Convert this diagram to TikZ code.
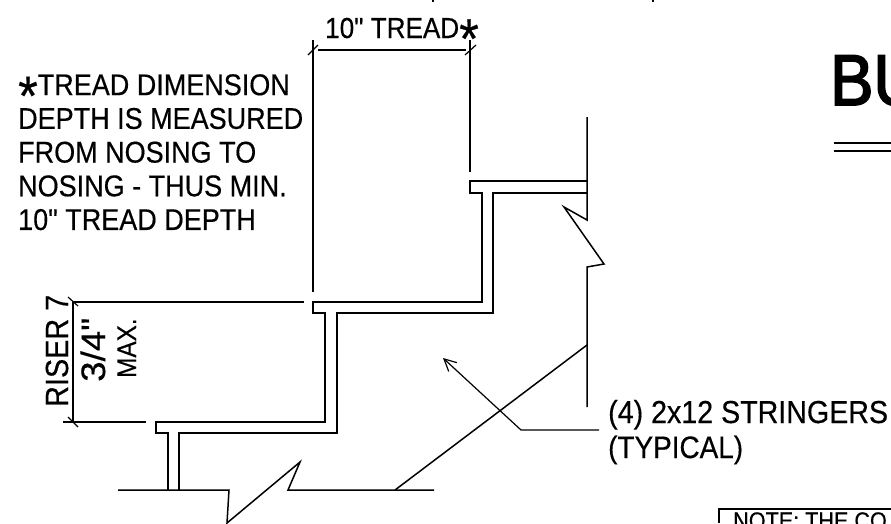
\documentclass[tikz,border=0pt]{standalone}
\usepackage{fontspec}
\newfontfamily\handfont[FakeStretch=0.9,FakeBold=0.4]{Liberation Sans}
\newfontfamily\titlefont[FakeStretch=0.9,FakeBold=2.5]{Liberation Sans}
\usetikzlibrary{arrows.meta}
\usetikzlibrary{positioning}
\tikzset{main line/.style={draw,line width=1.5pt,line join=miter}}
\tikzset{thin line/.style={draw,line width=1.2pt}}
\tikzset{lettering/.style={inner sep=0pt,anchor=base west,align=left}}
\newcommand{\lettersize}[1]{\handfont\fontsize{#1}{#1}\selectfont}
\newcommand{\starmark}{\raisebox{-20pt}[0pt][0pt]{\fontsize{56}{56}\selectfont *}}

\begin{document}
\begin{tikzpicture}[x=1pt,y=-1pt]
	\clip (0,0) rectangle (891,523);

	% stair
	\path[main line] (587,181) -- (470,181) -- (470,193) -- (482,193) -- (482,302) -- (313,302) -- (313,313) -- (325,313) -- (325,422) -- (156,422) -- (156,433) -- (168,433) -- (168,490);
	\path[main line] (587,193) -- (493,193) -- (493,313) -- (337,313) -- (337,433) -- (179,433) -- (179,490);
	\path[main line] (118,490) -- (229,490) -- (227,523) -- (300,462) -- (288,490) -- (434,490);
	\path[main line] (587,117) -- (587,220) -- (564,207) -- (604,264) -- (587,267) -- (587,407);
	\path[main line] (587,345) -- (395,490);

	% labels
	\node[lettering,font=\lettersize{29}] (l_{1}) at (325,38) {10" TREAD\starmark};
	\node[lettering,font={\handfont\fontsize{30}{33.7}\selectfont},anchor=north west] (l_{2}) at (18,74) {\starmark TREAD DIMENSION\\DEPTH IS MEASURED\\FROM NOSING TO\\NOSING - THUS MIN.\\10" TREAD DEPTH};
	\node[lettering,font=\lettersize{32},rotate=90] (l_{3}) at (68,407) {RISER 7};
	\node[lettering,font=\lettersize{34},rotate=90] (l_{4}) at (105,382) {\scalebox{1.2}[1]{3/4"}};
	\node[lettering,font=\lettersize{27},rotate=90] (l_{5}) at (136,378) {MAX.};
	\node[lettering,font=\lettersize{31.8}] (l_{6}) at (608,423) {(4) 2x12 STRINGERS};
	\node[lettering,font=\lettersize{31}] (l_{7}) at (608,458) {(TYPICAL)};
	\node[lettering,font={\titlefont\fontsize{72}{72}\selectfont}] (l_{8}) at (830,105) {BU};
	\node[lettering,font=\lettersize{24}] (l_{9}) at (733,529) {NOTE: THE CO};

	% tread dimension
	\coordinate (t_{1}) at (313,50);
	\coordinate (t_{2}) at (470,50);
	\path[thin line] (318,50) -- (466,50);
	\path[thin line] (t_{1}) ++(0,-10) -- (313,292);
	\path[thin line] (t_{2}) ++(0,-10) -- (470,172);
	\path[thin line] (308,55) -- (318,45);
	\path[thin line] (465,55) -- (476,45);

	% riser dimension
	\coordinate (r_{1}) at (73,302);
	\coordinate (r_{2}) at (73,422);
	\path[thin line] (r_{1}) -- (r_{2});
	\path[thin line] (r_{1}) -- (304,302);
	\path[thin line] (63,422) -- (146,422);
	\path[thin line] (68,297) -- (78,306);
	\path[thin line] (68,417) -- (78,427);

	% leader
	\coordinate (a_{1}) at (599,430);
	\coordinate (a_{2}) at (521,430);
	\coordinate (a_{3}) at (443,358);
	\path[thin line,-{Straight Barb[length=12pt,width=12pt]}] (a_{1}) -- (a_{2}) -- (a_{3});

	% double rule and note box
	\path[thin line] (834,143) -- (891,143);
	\path[thin line] (834,151) -- (891,151);
	\path[main line] (719,523) -- (719,509) -- (891,509);

	\path[thin line] (433,0) -- (433,2);
	\path[thin line] (653,0) -- (653,2);
\end{tikzpicture}
\end{document}
